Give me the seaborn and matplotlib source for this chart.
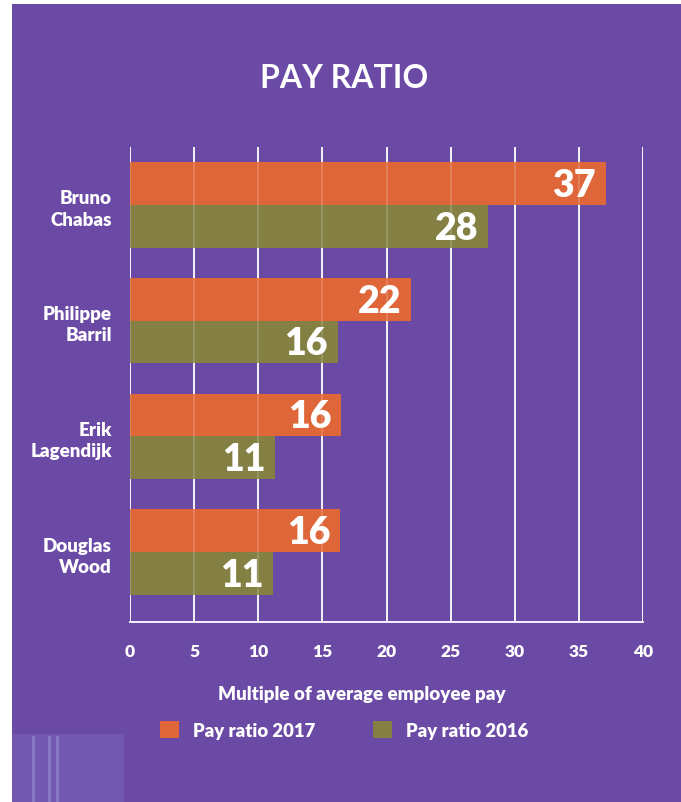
import numpy as np
import pandas as pd
import matplotlib
matplotlib.use('Agg')
import matplotlib.pyplot as plt
import seaborn as sns
from matplotlib.patches import Rectangle

names = ['Bruno\nChabas', 'Philippe\nBarril', 'Erik\nLagendijk', 'Douglas\nWood']
pay_2017 = [37.1, 21.9, 16.45, 16.4]
pay_2016 = [27.9, 16.2, 11.3, 11.15]
labels_2017 = ['37', '22', '16', '16']
labels_2016 = ['28', '16', '11', '11']
years = ['Pay ratio 2017', 'Pay ratio 2016']
xticks = [0, 5, 10, 15, 20, 25, 30, 35, 40]

bg = '#6b4aa6'
orange = '#de6638'
olive = '#848044'

sns.set_theme(style='white')
plt.rcParams['font.family'] = ['Lato', 'DejaVu Sans']

df = pd.DataFrame({
    'name': names * 2,
    'ratio': pay_2017 + pay_2016,
    'year': [years[0]] * 4 + [years[1]] * 4,
})

fig = plt.figure(figsize=(6.81, 8.03), dpi=100, facecolor='white')
fig.patches.append(Rectangle((12 / 681, 0), 1, 798 / 803, transform=fig.transFigure,
                             facecolor=bg, edgecolor='none', zorder=-10))
# faint photo texture in the bottom-left corner
fig.patches.append(Rectangle((12 / 681, 0), 112 / 681, 68 / 803, transform=fig.transFigure,
                             facecolor='#8f8ad0', alpha=0.22, edgecolor='none', zorder=-9))
for xp in [32, 48, 56]:
    fig.patches.append(Rectangle((xp / 681, 0), 3 / 681, 66 / 803, transform=fig.transFigure,
                                 facecolor='#b8c4ee', alpha=0.3, edgecolor='none', zorder=-8))

ax = fig.add_axes([130 / 681, 1 - 623 / 803, 513 / 681, 475 / 803])
ax.set_facecolor('none')

sns.barplot(data=df, y='name', x='ratio', hue='year', orient='h',
            palette=[orange, olive], width=0.74, saturation=1, linewidth=0,
            ax=ax, legend=True)

ax.set_xlim(0, 40)
ax.set_ylim(3.605, -0.501)
ax.set_xticks(xticks)
ax.set_xticklabels([str(t) for t in xticks], fontsize=12.5, fontweight='heavy', color='white')
ax.set_yticks(range(len(names)))
ax.set_yticklabels(names, fontsize=13.5, fontweight='heavy', color='white',
                   linespacing=1.3, ha='right', multialignment='right')
ax.tick_params(axis='x', colors='white', length=5, width=1.2, pad=10)
ax.tick_params(axis='y', length=0, pad=13)

ax.grid(axis='x', color='white', lw=1.3)
ax.set_axisbelow(True)
for t in xticks:
    ax.axvline(t, color='white', alpha=0.22, lw=1.1, zorder=3)

for s in ['top', 'right', 'left']:
    ax.spines[s].set_visible(False)
ax.spines['bottom'].set_color('white')
ax.spines['bottom'].set_linewidth(1.3)

# value labels inside bar ends
for cont, labs in zip(ax.containers, [labels_2017, labels_2016]):
    for bar, lab in zip(cont, labs):
        ax.annotate(lab, (bar.get_width(), bar.get_y() + bar.get_height() / 2),
                    xytext=(-7, -1), textcoords='offset points', ha='right', va='center',
                    fontsize=27, fontweight='heavy', color='white', zorder=5)

ax.set_ylabel('')
ax.set_xlabel('')
fig.text(362 / 681, 1 - 695 / 803, 'Multiple of average employee pay', ha='center', va='center',
         fontsize=13.5, fontweight='heavy', color='white')
fig.text(344 / 681, 1 - 78 / 803, 'PAY RATIO', ha='center', va='center',
         fontsize=23, fontweight='bold', color='white')

handles, lbls = ax.get_legend_handles_labels()
ax.get_legend().remove()
fig.legend(handles, lbls, loc='center', bbox_to_anchor=(344 / 681, 1 - 731 / 803), ncol=2,
           frameon=False, handlelength=1.05, handleheight=1.05, handletextpad=0.75,
           columnspacing=3.1, prop={'size': 13.3, 'weight': 'heavy'}, labelcolor='white')

fig.savefig('out.png', dpi=100, facecolor=fig.get_facecolor())
